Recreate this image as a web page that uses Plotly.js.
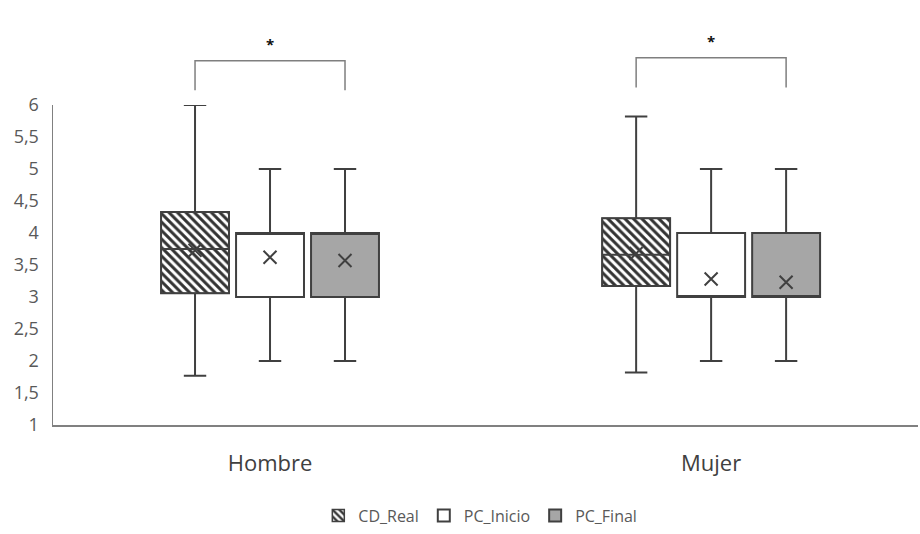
<!DOCTYPE html>
<html>
<head>
<meta charset="utf-8">
<script src="https://cdn.plot.ly/plotly-3.0.1.min.js"></script>
<style>html,body{margin:0;padding:0;background:#fff;}#chart{width:920px;height:534px;}</style>
</head>
<body>
<div id="chart"></div>
<script>
// ---- data ----
const categories = ['Hombre', 'Mujer'];
const seriesNames = ['CD_Real', 'PC_Inicio', 'PC_Final'];

const cdReal_low    = [1.77, 1.82];
const cdReal_q1     = [3.06, 3.17];
const cdReal_median = [3.75, 3.66];
const cdReal_q3     = [4.33, 4.23];
const cdReal_high   = [6.0, 5.82];
const cdReal_mean   = [3.73, 3.68];

const pcInicio_low    = [2, 2];
const pcInicio_q1     = [3, 3];
const pcInicio_median = [4, 3];
const pcInicio_q3     = [4, 4];
const pcInicio_high   = [5, 5];
const pcInicio_mean   = [3.62, 3.28];

const pcFinal_low    = [2, 2];
const pcFinal_q1     = [3, 3];
const pcFinal_median = [4, 3];
const pcFinal_q3     = [4, 4];
const pcFinal_high   = [5, 5];
const pcFinal_mean   = [3.57, 3.23];

const yTicks = [1, 1.5, 2, 2.5, 3, 3.5, 4, 4.5, 5, 5.5, 6];
const sigMark = ['<b>*</b>', '<b>*</b>'];

// ---- layout helpers ----
const spacing = 0.17;
const boxW = 0.154;
const catIdx = categories.map((c, i) => i);
const pos = s => catIdx.map(i => i + (s - 1) * spacing);
const lineCol = '#404040';

const series = [
  {name: seriesNames[0], low: cdReal_low, q1: cdReal_q1, med: cdReal_median, q3: cdReal_q3, high: cdReal_high, mean: cdReal_mean, fill: 'rgba(0,0,0,0)'},
  {name: seriesNames[1], low: pcInicio_low, q1: pcInicio_q1, med: pcInicio_median, q3: pcInicio_q3, high: pcInicio_high, mean: pcInicio_mean, fill: '#ffffff'},
  {name: seriesNames[2], low: pcFinal_low, q1: pcFinal_q1, med: pcFinal_median, q3: pcFinal_q3, high: pcFinal_high, mean: pcFinal_mean, fill: '#a6a6a6'}
];

const traces = [];
// hatched fill for CD_Real as a bar from q1 to q3
traces.push({
  type: 'bar', name: seriesNames[0], x: pos(0),
  base: cdReal_q1, y: cdReal_q3.map((v, i) => v - cdReal_q1[i]),
  width: boxW,
  marker: {color: '#ffffff', line: {width: 1.5, color: lineCol},
    pattern: {shape: '\\', fgcolor: '#333333', bgcolor: '#ffffff', size: 6, solidity: 0.5}},
  showlegend: true, hoverinfo: 'skip'
});
series.forEach((s, k) => {
  traces.push({
    type: 'box', name: s.name, x: pos(k),
    q1: s.q1, median: s.med, q3: s.q3, lowerfence: s.low, upperfence: s.high,
    width: boxW, whiskerwidth: 0.33,
    fillcolor: s.fill, line: {color: lineCol, width: 2},
    boxpoints: false, showlegend: k > 0, hoverinfo: 'skip'
  });
});
series.forEach((s, k) => {
  traces.push({
    type: 'scatter', mode: 'markers', x: pos(k), y: s.mean,
    marker: {symbol: 'x-thin-open', size: 13, line: {width: 2, color: lineCol}, color: lineCol},
    showlegend: false, hoverinfo: 'skip'
  });
});

// significance brackets between CD_Real and PC_Final
const bracketTop = [1.138, 1.148];
const bracketBottom = [1.046, 1.055];
const starY = [1.19, 1.2];
const shapes = [];
const annotations = [];
catIdx.forEach(i => {
  const x0 = pos(0)[i], x1 = pos(2)[i];
  shapes.push({type: 'path', xref: 'x', yref: 'paper',
    path: `M${x0},${bracketBottom[i]} L${x0},${bracketTop[i]} L${x1},${bracketTop[i]} L${x1},${bracketBottom[i]}`,
    line: {color: '#7f7f7f', width: 1.5}});
  annotations.push({xref: 'x', yref: 'paper', x: (x0 + x1) / 2, y: starY[i], text: sigMark[i],
    yanchor: 'middle', showarrow: false, font: {size: 15, color: '#111', family: '"Open Sans", sans-serif'}});
});

const layout = {
  width: 920, height: 534,
  margin: {l: 53, r: 2, t: 105, b: 104},
  paper_bgcolor: '#fff', plot_bgcolor: '#fff',
  separators: ', ',
  font: {family: '"Open Sans", "Liberation Sans", sans-serif', color: '#595959'},
  boxmode: 'overlay', barmode: 'overlay',
  showlegend: true,
  legend: {orientation: 'h', x: 0.494, xanchor: 'center', y: -0.283, yanchor: 'middle',
    font: {size: 16, color: '#595959'}, traceorder: 'normal', itemwidth: 30},
  xaxis: {range: [-0.492, 1.469], tickvals: catIdx, ticktext: categories,
    showgrid: false, zeroline: false, showline: true, linecolor: '#808080', linewidth: 2,
    ticks: '', ticklabelstandoff: 18, tickfont: {size: 22, color: '#404040'}},
  yaxis: {range: [1, 6], tickvals: yTicks, showgrid: false, zeroline: false,
    showline: true, linecolor: '#808080', linewidth: 1.5, ticks: '',
    ticklabelstandoff: 9, tickfont: {size: 18, color: '#595959'}},
  shapes: shapes,
  annotations: annotations
};

Plotly.newPlot('chart', traces, layout, {displayModeBar: false, staticPlot: true});
</script>
</body>
</html>
